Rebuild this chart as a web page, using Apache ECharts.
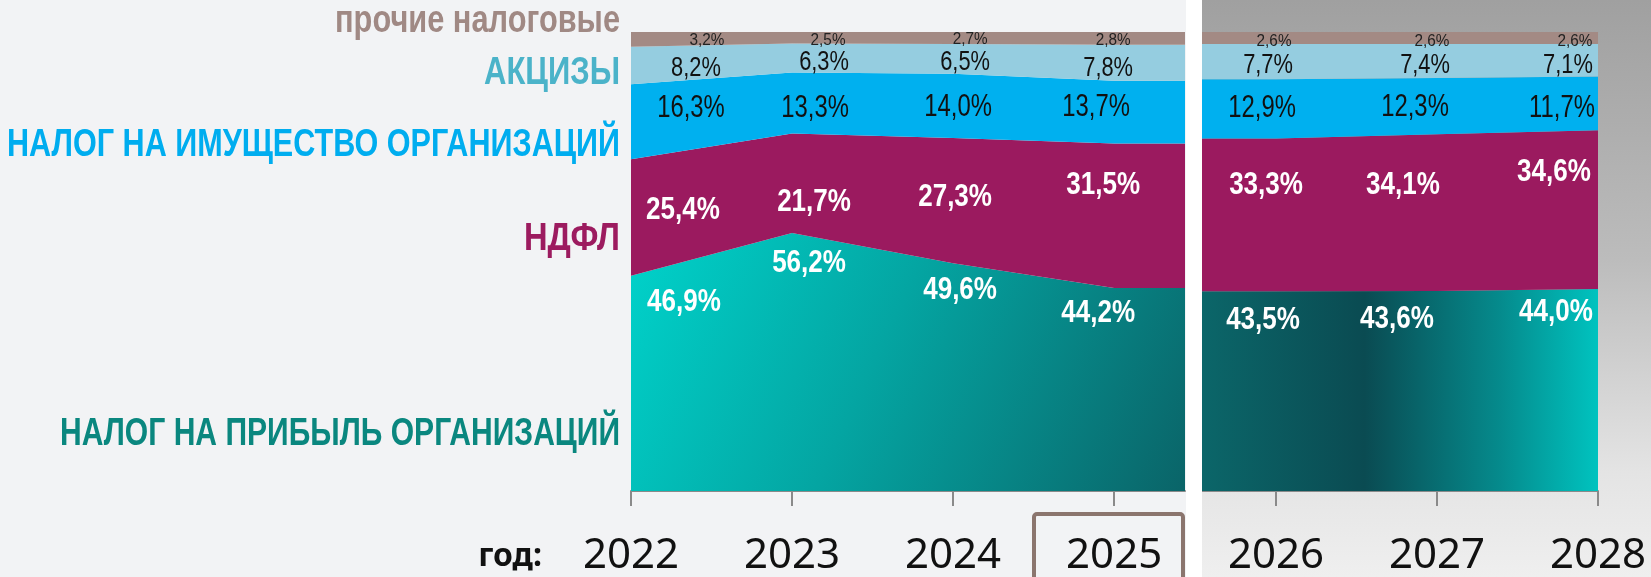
<!DOCTYPE html>
<html lang="ru">
<head>
<meta charset="utf-8">
<title>Структура налоговых доходов</title>
<script src="https://cdn.jsdelivr.net/npm/echarts@6/dist/echarts.min.js"></script>
<style>
    html, body { margin: 0; padding: 0; background: #f2f3f5; }
    #chart { width: 1651px; height: 577px; }
</style>
</head>
<body>
<div id="chart"></div>
<script>
var years = [2022, 2023, 2024, 2025, 2026, 2027, 2028];
var yearLabels = ['2022', '2023', '2024', '2025', '2026', '2027', '2028'];

// доли, % (снизу вверх)
var profitTax   = [46.9, 56.2, 49.6, 44.2, 43.5, 43.6, 44.0];
var ndfl        = [25.4, 21.7, 27.3, 31.5, 33.3, 34.1, 34.6];
var propertyTax = [16.3, 13.3, 14.0, 13.7, 12.9, 12.3, 11.7];
var excise      = [8.2, 6.3, 6.5, 7.8, 7.7, 7.4, 7.1];
var otherTax    = [3.2, 2.5, 2.7, 2.8, 2.6, 2.6, 2.6];

var seriesNames = ['НАЛОГ НА ПРИБЫЛЬ ОРГАНИЗАЦИЙ', 'НДФЛ', 'НАЛОГ НА ИМУЩЕСТВО ОРГАНИЗАЦИЙ', 'АКЦИЗЫ', 'прочие налоговые'];

var splitIndex = 4;          // 2022-2025 слева, 2026-2028 справа
var leftMax = 2025.44;       // край левой панели
var rightMin = 2025.54;      // край правой панели

var layers = [profitTax, ndfl, propertyTax, excise, otherTax];

var font = "'Liberation Sans', Arial, sans-serif";

// оформление подписей (сдвиг от верхней точки полосы, сжатие шрифта)
var labelStyle = [
    { color: '#fff', size: 31, weight: 'bold', scale: 0.84,
      dx: [53, 17, 7, -16, -13, -40, -42], dy: [27, 30, 27, 25, 29, 29, 23] },
    { color: '#fff', size: 31, weight: 'bold', scale: 0.84,
      dx: [52, 22, 2, -11, -10, -34, -44], dy: [51, 69, 59, 42, 47, 51, 42] },
    { color: '#111', size: 31, weight: 'normal', scale: 0.77,
      dx: [60, 23, 5, -18, -14, -22, -36], dy: [24, 36, 34, 27, 29, 30, 32] },
    { color: '#111', size: 28, weight: 'normal', scale: 0.78,
      dx: [65, 32, 12, -6, -8, -12, -30], dy: [22, 19, 18, 23, 21, 21, 21] },
    { color: '#222', size: 17, weight: 'normal', scale: 0.9,
      dx: [76, 36, 17, -1, -2, -5, -23], dy: [8, 8, 8, 8, 9, 9, 9] }
];

var grad = echarts.graphic.LinearGradient;
var leftColors = [
    new grad(0, 0, 1, 1, [
        { offset: 0, color: '#00d3cb' },
        { offset: 0.45, color: '#04a5a2' },
        { offset: 1, color: '#0a6468' }
    ]),
    '#9b1a5f', '#00b0ef', '#95cde0', '#a38a84'
];
var rightColors = [
    new grad(0, 0, 1, 0, [
        { offset: 0, color: '#0b6669' },
        { offset: 0.41, color: '#0a4b52' },
        { offset: 0.75, color: '#058a8c' },
        { offset: 1, color: '#00c3bf' }
    ]),
    '#9b1a5f', '#00b0ef', '#95cde0', '#a38a84'
];

function fmt(v) {
    return v.toFixed(1).replace('.', ',') + '%';
}

function range(side) {
    return side === 'left' ? [0, splitIndex] : [splitIndex, years.length];
}

// полосы; значение идёт первым, чтобы стек считался по оси Y
function makeAreas(side) {
    var out = [];
    var r = range(side);
    layers.forEach(function (values, k) {
        var data = [];
        for (var i = r[0]; i < r[1]; i++) data.push([values[i], years[i]]);
        // продолжение полосы до края панели
        if (side === 'left') data.push([values[splitIndex - 1], leftMax]);
        else data.unshift([values[splitIndex], rightMin]);
        out.push({
            name: seriesNames[k],
            type: 'line',
            xAxisIndex: side === 'left' ? 0 : 1,
            yAxisIndex: side === 'left' ? 0 : 1,
            stack: side,
            data: data,
            encode: { x: 1, y: 0 },
            showSymbol: false,
            silent: true,
            lineStyle: { width: 0 },
            areaStyle: { color: side === 'left' ? leftColors[k] : rightColors[k], opacity: 1 },
            z: 2
        });
    });
    return out;
}

// подписи значений
function makeLabels(side) {
    var r = range(side);
    var data = [], meta = [];
    for (var i = r[0]; i < r[1]; i++) {
        var top = 0;
        for (var k = 0; k < layers.length; k++) {
            top += layers[k][i];
            data.push([years[i], top, layers[k][i]]);
            meta.push({ k: k, i: i });
        }
    }
    return {
        type: 'custom',
        xAxisIndex: side === 'left' ? 0 : 1,
        yAxisIndex: side === 'left' ? 0 : 1,
        data: data,
        encode: { x: 0, y: 1 },
        clip: false,
        silent: true,
        z: 5,
        renderItem: function (params, api) {
            var m = meta[params.dataIndex];
            var st = labelStyle[m.k];
            var pt = api.coord([api.value(0), api.value(1)]);
            return {
                type: 'text',
                x: pt[0] + st.dx[m.i],
                y: pt[1] + st.dy[m.i],
                scaleX: st.scale,
                style: {
                    text: fmt(api.value(2)),
                    fill: st.color,
                    fontSize: st.size,
                    fontWeight: st.weight,
                    fontFamily: font,
                    align: 'center',
                    verticalAlign: 'middle'
                }
            };
        }
    };
}

function xAxisFor(gridIndex, min, max, ticks) {
    return {
        type: 'value',
        gridIndex: gridIndex,
        min: min,
        max: max,
        splitLine: { show: false },
        axisLine: { show: true, lineStyle: { color: '#8a8a8a', width: 2 } },
        axisTick: { show: true, customValues: ticks, length: 15, lineStyle: { color: '#8a8a8a', width: 2 } },
        axisLabel: {
            show: true,
            customValues: ticks,
            margin: 44,
            fontSize: 42,
            fontFamily: "'Noto Sans', sans-serif",
            color: '#111',
            formatter: function (v) { return yearLabels[years.indexOf(v)]; }
        }
    };
}

// подписи слева (названия налогов)
var titleY = [434, 239, 145, 73, 21];
var titleWidth = [560, 96, 613, 136, 285];
var titleColor = ['#0a877f', '#9c1b5f', '#00adef', '#4bb3c9', '#a08984'];

var measureCtx = document.createElement('canvas').getContext('2d');
function fitScale(text, size, width) {
    measureCtx.font = 'bold ' + size + 'px ' + font;
    return width / measureCtx.measureText(text).width;
}

var graphics = [
    // серый фон прогнозной части
    { type: 'rect', z: -10, shape: { x: 1202, y: 0, width: 449, height: 577 },
      style: { fill: new grad(0, 0, 0, 1, [
          { offset: 0, color: '#a0a0a0' },
          { offset: 0.45, color: '#bcbcbc' },
          { offset: 0.82, color: '#e4e4e4' },
          { offset: 1, color: '#efefef' }
      ]) } },
    // белый разделитель
    { type: 'rect', z: 10, shape: { x: 1186, y: 0, width: 16, height: 577 }, style: { fill: '#ffffff' } },
    // рамка 2025
    { type: 'rect', z: 10, shape: { x: 1034, y: 514, width: 149, height: 80, r: 3 },
      style: { fill: 'none', stroke: '#8b756e', lineWidth: 4 } },
    { type: 'text', z: 10, x: 542, y: 557,
      style: { text: 'год:', fontSize: 32, fontWeight: 'bold', fontFamily: "'Noto Sans', sans-serif",
               fill: '#111', textAlign: 'right', textVerticalAlign: 'middle' } }
];
seriesNames.forEach(function (n, k) {
    graphics.push({
        type: 'text', z: 10, x: 620, y: titleY[k],
        scaleX: fitScale(n, 39, titleWidth[k]),
        style: { text: n, fontSize: 39, fontWeight: 'bold', fontFamily: font,
                 fill: titleColor[k], textAlign: 'right', textVerticalAlign: 'middle' }
    });
});

var chart = echarts.init(document.getElementById('chart'), null, { renderer: 'canvas' });
chart.setOption({
    backgroundColor: '#f2f3f5',
    animation: false,
    grid: [
        { left: 631, top: 32, width: 554, height: 459 },
        { left: 1202, top: 32, width: 396, height: 459 }
    ],
    xAxis: [
        xAxisFor(0, 2022, leftMax, years.slice(0, splitIndex)),
        xAxisFor(1, rightMin, 2028, years.slice(splitIndex))
    ],
    yAxis: [
        { type: 'value', gridIndex: 0, min: 0, max: 100, show: false },
        { type: 'value', gridIndex: 1, min: 0, max: 100, show: false }
    ],
    graphic: graphics,
    series: makeAreas('left').concat(makeAreas('right'), [makeLabels('left'), makeLabels('right')])
});
</script>
</body>
</html>
